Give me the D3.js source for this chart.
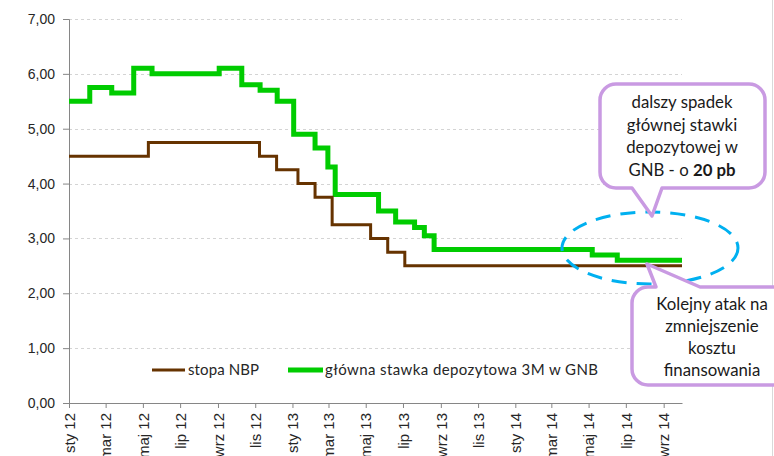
<!DOCTYPE html>
<html>
<head>
<meta charset="utf-8">
<script src="https://cdn.jsdelivr.net/npm/d3@7"></script>
<style>
  body { margin: 0; background: #fff; }
  svg { display: block; font-family: Lato, "Open Sans", sans-serif; }
</style>
</head>
<body>
<div id="chart"></div>
<script>
// data
var nbpDates = ["2012-01-01", "2012-05-10", "2012-11-08", "2012-12-06", "2013-01-10", "2013-02-07",
                "2013-03-07", "2013-05-09", "2013-06-06", "2013-07-04", "2014-10-01"];
var nbpValues = [4.50, 4.75, 4.50, 4.25, 4.00, 3.75, 3.25, 3.00, 2.75, 2.50, 2.50];

var gnbDates = ["2012-01-01", "2012-02-04", "2012-03-11", "2012-04-16", "2012-05-16", "2012-09-03",
                "2012-10-10", "2012-11-09", "2012-12-07", "2013-01-03", "2013-02-07", "2013-02-28",
                "2013-03-12", "2013-05-22", "2013-06-19", "2013-07-20", "2013-08-05", "2013-08-21",
                "2014-05-07", "2014-06-17", "2014-10-01"];
var gnbValues = [5.50, 5.75, 5.65, 6.10, 6.00, 6.10, 5.80, 5.70, 5.50, 4.90, 4.65, 4.30,
                 3.80, 3.50, 3.30, 3.20, 3.05, 2.80, 2.70, 2.60, 2.60];

var tickDates = ["2012-01-01", "2012-03-01", "2012-05-01", "2012-07-01", "2012-09-01", "2012-11-01",
                 "2013-01-01", "2013-03-01", "2013-05-01", "2013-07-01", "2013-09-01", "2013-11-01",
                 "2014-01-01", "2014-03-01", "2014-05-01", "2014-07-01", "2014-09-01"];
var tickLabels = ["sty 12", "mar 12", "maj 12", "lip 12", "wrz 12", "lis 12",
                  "sty 13", "mar 13", "maj 13", "lip 13", "wrz 13", "lis 13",
                  "sty 14", "mar 14", "maj 14", "lip 14", "wrz 14"];
var yTicks = [0, 1, 2, 3, 4, 5, 6, 7];

var seriesNames = ["stopa NBP", "główna stawka depozytowa 3M w GNB"];
var callout1 = ["dalszy spadek", "głównej stawki", "depozytowej w"];
var callout2 = ["Kolejny atak na", "zmniejszenie", "kosztu", "finansowania"];

var parse = d3.timeParse("%Y-%m-%d");
var width = 774, height = 456;

var svg = d3.select("#chart")
  .append("svg")
    .attr("width", width)
    .attr("height", height);

var x = d3.scaleTime()
    .domain([parse("2012-01-01"), parse("2014-10-01")])
    .range([69, 682]);

var y = d3.scaleLinear()
    .domain([0, 7])
    .range([403, 19]);

// frame on the right
svg.append("line")
    .attr("x1", 772.5).attr("x2", 772.5)
    .attr("y1", 0).attr("y2", height)
    .style("stroke", "#d9d9d9");

// gridlines
svg.append("g")
  .selectAll("line")
  .data(yTicks.slice(1))
  .enter()
  .append("line")
    .attr("x1", 69).attr("x2", 682)
    .attr("y1", function(d) { return Math.round(y(d)) + 0.5; })
    .attr("y2", function(d) { return Math.round(y(d)) + 0.5; })
    .style("stroke", "#d4d4d4")
    .style("stroke-dasharray", "3,3");

// y axis
var yAxis = svg.append("g")
    .attr("transform", "translate(69,0)")
    .call(d3.axisLeft(y).tickValues(yTicks).tickSize(6).tickPadding(8)
      .tickFormat(function(d) { return d3.format(".2f")(d).replace(".", ","); }));
yAxis.select(".domain").style("stroke", "#868686");
yAxis.selectAll(".tick line").style("stroke", "#868686");
yAxis.selectAll("text").style("font-size", "14px").style("fill", "#262626");

// x axis
var xAxis = svg.append("g")
    .attr("transform", "translate(0,403)")
    .call(d3.axisBottom(x).tickValues(tickDates.map(parse)).tickSizeInner(5).tickSizeOuter(0)
      .tickFormat(function(d, i) { return tickLabels[i]; }));
xAxis.select(".domain").style("stroke", "#868686");
xAxis.selectAll(".tick line").style("stroke", "#868686");
xAxis.selectAll("text")
    .attr("transform", "rotate(-90)")
    .attr("text-anchor", "end")
    .attr("x", -10)
    .attr("y", 0)
    .attr("dy", "0.35em")
    .style("font-size", "15px")
    .style("fill", "#262626");

// lines
var line = d3.line()
    .curve(d3.curveStepAfter)
    .x(function(d) { return x(d[0]); })
    .y(function(d) { return y(d[1]); });

var nbp = nbpDates.map(function(d, i) { return [parse(d), nbpValues[i]]; });
var gnb = gnbDates.map(function(d, i) { return [parse(d), gnbValues[i]]; });

svg.append("path")
    .datum(gnb)
    .attr("d", line)
    .style("fill", "none")
    .style("stroke", "#00cc00")
    .style("stroke-width", 5);

svg.append("path")
    .datum(nbp)
    .attr("d", line)
    .style("fill", "none")
    .style("stroke", "#663300")
    .style("stroke-width", 3);

// legend
var legend = svg.append("g");
legend.append("line")
    .attr("x1", 152).attr("x2", 185).attr("y1", 370).attr("y2", 370)
    .style("stroke", "#663300").style("stroke-width", 3);
legend.append("text")
    .attr("x", 188).attr("y", 375)
    .attr("textLength", 71).attr("lengthAdjust", "spacing")
    .style("font-size", "15px").style("fill", "#262626")
    .text(seriesNames[0]);
legend.append("line")
    .attr("x1", 288).attr("x2", 323).attr("y1", 370).attr("y2", 370)
    .style("stroke", "#00cc00").style("stroke-width", 5);
legend.append("text")
    .attr("x", 325).attr("y", 375)
    .attr("textLength", 273).attr("lengthAdjust", "spacing")
    .style("font-size", "15px").style("fill", "#262626")
    .text(seriesNames[1]);

// dashed ellipse
svg.append("ellipse")
    .attr("cx", 650).attr("cy", 248)
    .attr("rx", 88).attr("ry", 36)
    .style("fill", "none")
    .style("stroke", "#00b0f0")
    .style("stroke-width", 3)
    .style("stroke-dasharray", "15,10");

// callout boxes
function bubble(x0, y0, x1, y1, r, side, b0, b1, tx, ty) {
  var p = d3.path();
  p.moveTo(x0 + r, y0);
  if (side === "top") { p.lineTo(b0, y0); p.lineTo(tx, ty); p.lineTo(b1, y0); }
  p.lineTo(x1 - r, y0);
  p.arcTo(x1, y0, x1, y0 + r, r);
  p.lineTo(x1, y1 - r);
  p.arcTo(x1, y1, x1 - r, y1, r);
  if (side === "bottom") { p.lineTo(b1, y1); p.lineTo(tx, ty); p.lineTo(b0, y1); }
  p.lineTo(x0 + r, y1);
  p.arcTo(x0, y1, x0, y1 - r, r);
  p.lineTo(x0, y0 + r);
  p.arcTo(x0, y0, x0 + r, y0, r);
  p.closePath();
  return p.toString();
}

svg.append("path")
    .attr("d", bubble(600, 84, 765, 188, 16, "bottom", 632, 662, 652, 216))
    .style("fill", "#fff")
    .style("stroke", "#c99ae2")
    .style("stroke-width", 3.5)
    .style("stroke-linejoin", "round");

svg.append("path")
    .attr("d", bubble(632, 287, 800, 385, 16, "top", 656, 700, 647, 264))
    .style("fill", "#fff")
    .style("stroke", "#c99ae2")
    .style("stroke-width", 3.5)
    .style("stroke-linejoin", "round");

var t1 = svg.append("g")
    .style("font-size", "16.8px").style("fill", "#1a1a1a")
    .attr("text-anchor", "middle");
callout1.forEach(function(s, i) {
  t1.append("text").attr("x", 682).attr("y", 108 + i * 22.5).text(s);
});
var last = t1.append("text").attr("x", 682).attr("y", 108 + 3 * 22.5);
last.append("tspan").text("GNB - o ");
last.append("tspan").style("font-weight", "bold").text("20 pb");

var t2 = svg.append("g")
    .style("font-size", "16.8px").style("fill", "#1a1a1a")
    .attr("text-anchor", "middle");
callout2.forEach(function(s, i) {
  t2.append("text").attr("x", 712).attr("y", 310 + i * 22).text(s);
});
</script>
</body>
</html>
